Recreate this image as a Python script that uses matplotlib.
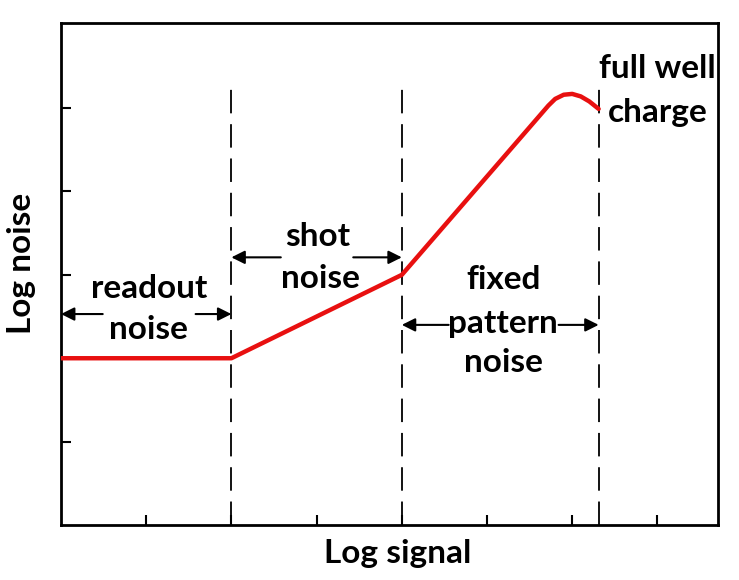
import matplotlib.pyplot as plt

plt.rcParams['font.family'] = ['Lato', 'DejaVu Sans']
plt.rcParams['font.weight'] = 'bold'

# noise curve (log signal, log noise)
signal = [0, 2, 4, 5.72, 5.8, 5.9, 6.0, 6.1, 6.2, 6.31]
noise = [2.0, 2.0, 3.0, 5.03, 5.11, 5.16, 5.17, 5.14, 5.08, 4.99]

# region boundaries (dashed lines)
boundaries = [2, 4, 6.31]
boundary_top = 5.24

x_ticks = [1, 2, 3, 4, 5, 6, 7]
y_ticks = [1, 2, 3, 4, 5]

# region labels: (text, x, y)
labels = [
    ("readout", 1.03, 2.84),
    ("noise", 1.03, 2.35),
    ("shot", 3.01, 3.46),
    ("noise", 3.05, 2.96),
    ("fixed", 5.19, 2.95),
    ("pattern", 5.19, 2.42),
    ("noise", 5.19, 1.95),
    ("full well", 7.0, 5.47),
    ("charge", 7.0, 4.95),
]

# arrows: (tail x, head x, y)
arrows = [
    (0.49, 0, 2.53),
    (1.58, 2, 2.53),
    (2.58, 2, 3.21),
    (3.43, 4, 3.21),
    (4.55, 4, 2.40),
    (5.84, 6.31, 2.40),
]

fig = plt.figure(figsize=(7.39, 5.8), dpi=100)
ax = fig.add_axes([0.0825, 0.0948, 0.889, 0.8655])

for b in boundaries:
    ax.plot([b, b], [0, boundary_top], color='black', lw=1.3,
            linestyle=(0, (13, 6)), zorder=1)

ax.plot(signal, noise, color='#e81010', lw=3.2, solid_capstyle='round',
        solid_joinstyle='round', zorder=3)

for text, x, y in labels:
    ax.text(x, y, text, ha='center', va='center', fontsize=24,
            fontweight='bold', zorder=4)

for x0, x1, y in arrows:
    ax.annotate('', xy=(x1, y), xytext=(x0, y),
                arrowprops=dict(arrowstyle='-|>', color='black', lw=1.5,
                                mutation_scale=20, shrinkA=0, shrinkB=0))

ax.set_xlim(0, 7.71)
ax.set_ylim(0, 6.02)
ax.set_xticks(x_ticks)
ax.set_yticks(y_ticks)
ax.set_xticklabels([])
ax.set_yticklabels([])
ax.tick_params(direction='in', length=7, width=1.5, top=False, right=False)
for s in ax.spines.values():
    s.set_linewidth(2)

fig.text(398 / 739, 1 - 553 / 580, "Log signal", ha='center', va='center',
         fontsize=24, fontweight='bold')
fig.text(22 / 739, 1 - 263 / 580, "Log noise", ha='center', va='center',
         rotation=90, fontsize=24, fontweight='bold')

fig.savefig("out.png", dpi=100)
